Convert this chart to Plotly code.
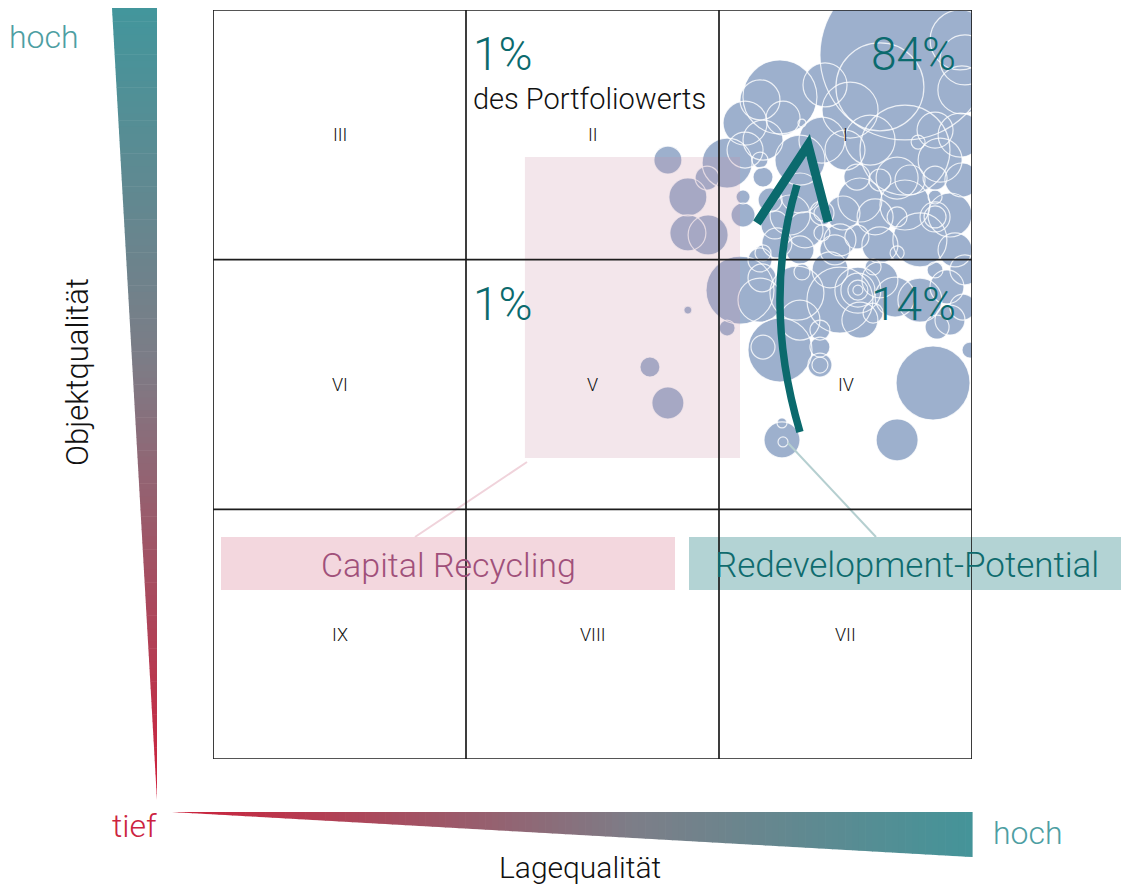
import plotly.graph_objects as go

W, H = 1122, 886

# Portfolio properties: location quality (x), building quality (y), market value (Mio. CHF)
lage = [
    2.735, 2.636, 2.735, 2.241, 2.960, 2.103, 2.174, 2.253, 2.407, 2.854,
    2.787, 2.545, 2.636, 2.704, 2.854, 2.960, 2.854, 2.854, 2.854, 2.704,
    2.617, 2.545, 2.704, 2.794, 2.933, 2.407, 2.407, 2.407, 2.174, 2.320,
    2.095, 2.490, 2.229, 2.498, 2.340, 2.953, 2.419, 2.328, 2.162, 2.032,
    2.095, 2.174, 2.953,
    2.518, 2.320, 2.597, 2.103, 2.281, 2.557, 2.735, 2.913, 2.636, 2.458,
    2.874, 2.320, 2.162, 2.972, 2.221, 2.478, 2.755, 2.202,
    2.549, 2.549, 2.549, 2.549, 2.609, 2.609, 2.696, 2.854, 2.901, 2.862,
    2.964, 2.478, 2.308, 2.328, 2.241, 2.174, 2.399, 2.399, 2.399, 2.399,
    2.083, 2.032, 2.992, 2.846, 2.704, 2.249, 2.249, 2.253, 2.170, 2.972,
    2.162, 2.320, 2.439, 2.636, 2.794, 2.913, 2.557, 2.162,
    1.798, 1.953, 1.877, 1.877, 1.957,
    1.877, 1.727, 1.798,
]
objekt = [
    2.820, 2.692, 2.439, 2.652, 2.680, 2.547, 2.479, 2.567, 2.479, 2.519,
    2.471, 2.331, 2.319, 2.327, 2.327, 2.319, 2.251, 2.171, 2.171, 2.171,
    2.171, 2.091, 2.027, 2.079, 2.039, 2.187, 2.187, 2.107, 2.331, 2.267,
    2.251, 2.187, 2.067, 2.439, 2.119, 2.499, 2.700, 2.547, 2.399, 2.387,
    2.179, 2.027, 2.880,
    2.599, 2.399, 2.479, 2.439, 2.179, 2.239, 2.219, 2.179, 2.059, 2.039,
    2.399, 2.039, 2.640, 2.800, 2.139, 2.079, 2.319, 2.239,
    1.878, 1.878, 1.878, 1.878, 1.971, 1.786, 1.850, 1.959, 1.891, 1.730,
    1.810, 1.838, 1.866, 1.951, 1.638, 1.650, 1.718, 1.650, 1.578, 1.578,
    1.878, 1.726, 1.638, 1.506, 1.278, 1.278, 1.346, 1.270, 1.927, 1.959,
    1.838, 1.758, 1.959, 1.919, 1.838, 1.758, 1.758, 1.999,
    2.399, 2.327, 2.251, 2.107, 2.099,
    1.798, 1.570, 1.426,
]
wert = [
    7225, 1936, 2025, 1369, 576, 484, 400, 289, 529, 324,
    49, 169, 121, 441, 144, 289, 49, 225, 121, 100,
    324, 144, 49, 729, 289, 144, 64, 64, 100, 400,
    49, 289, 225, 400, 324, 484, 484, 16, 64, 625,
    144, 64, 900,
    784, 625, 625, 324, 400, 484, 625, 484, 324, 225,
    484, 196, 400, 625, 196, 256, 225, 144,
    529, 289, 100, 25, 64, 100, 400, 64, 289, 144,
    169, 1089, 729, 64, 1024, 144, 100, 100, 144, 64,
    1156, 64, 64, 1369, 441, 324, 25, 25, 196, 225,
    484, 400, 324, 324, 484, 225, 324, 144,
    196, 144, 361, 324, 400,
    16, 100, 256,
]

# Matrix cells (roman numerals) by row from top
cell_labels = [["III", "II", "I"], ["VI", "V", "IV"], ["IX", "VIII", "VII"]]

# Share of portfolio value per field
share_text = ["1%", "84%", "1%", "14%"]

# Arrow (redevelopment path) in axis units
arrow_shaft = [(2.320, 1.310), (2.168, 1.832), (2.308, 2.299)]
arrow_head = [(2.150, 2.147), (2.352, 2.459), (2.431, 2.151)]

# Highlighted capital-recycling zone in axis units
recycling_zone = (1.233, 1.206, 2.083, 2.411)

BUBBLE = "#9db0cd"
TEAL = "#0b6a6d"
FONT = "Roboto"
SIZEREF = 0.5

x_dom = [213 / W, 972 / W]
y_dom = [1 - 759 / H, 1 - 10 / H]


def px(X):
    return X / W


def py(Y):
    return 1 - Y / H


def lerp(c1, c2, t):
    return tuple(round(a + (b - a) * t) for a, b in zip(c1, c2))


def grad(t, stops):
    for (t0, c0), (t1, c1) in zip(stops, stops[1:]):
        if t <= t1:
            return "rgb(%d,%d,%d)" % lerp(c0, c1, (t - t0) / (t1 - t0))
    return "rgb(%d,%d,%d)" % stops[-1][1]


fig = go.Figure()

# bubble fills, then every outline on top so overlaps stay visible
fig.add_trace(go.Scatter(
    x=lage, y=objekt, mode="markers", hoverinfo="skip",
    marker=dict(size=wert, sizemode="area", sizeref=SIZEREF, color=BUBBLE,
                opacity=1, line=dict(width=0)),
))
fig.add_trace(go.Scatter(
    x=lage, y=objekt, mode="markers", hoverinfo="skip",
    marker=dict(size=wert, sizemode="area", sizeref=SIZEREF,
                color="rgba(0,0,0,0)", opacity=1,
                line=dict(width=1.2, color="rgba(255,255,255,0.8)")),
))

shapes = []

# capital recycling zone (translucent, over the bubbles)
zx0, zy0, zx1, zy1 = recycling_zone
shapes.append(dict(type="rect", xref="x", yref="y", x0=zx0, y0=zy0, x1=zx1, y1=zy1,
                   fillcolor="rgba(200,140,165,0.22)", line=dict(width=0), layer="above"))

# label boxes
shapes.append(dict(type="rect", xref="paper", yref="paper", x0=px(221), x1=px(675),
                   y0=py(590), y1=py(537), fillcolor="#f3d7de", line=dict(width=0), layer="above"))
shapes.append(dict(type="rect", xref="paper", yref="paper", x0=px(689), x1=px(1121),
                   y0=py(590), y1=py(537), fillcolor="#b3d3d4", line=dict(width=0), layer="above"))

# connector lines
shapes.append(dict(type="line", xref="paper", yref="paper", x0=px(527), y0=py(462),
                   x1=px(415), y1=py(537), line=dict(color="#f0d3db", width=2), layer="above"))
shapes.append(dict(type="line", xref="paper", yref="paper", x0=px(788), y0=py(443),
                   x1=px(876), y1=py(537), line=dict(color="#b5cfd0", width=2), layer="above"))

# 3x3 grid
for k in range(4):
    shapes.append(dict(type="line", xref="x", yref="y", x0=k, x1=k, y0=0, y1=3,
                       line=dict(color="#1c1c1c", width=1.7), layer="above"))
    shapes.append(dict(type="line", xref="x", yref="y", x0=0, x1=3, y0=k, y1=k,
                       line=dict(color="#1c1c1c", width=1.7), layer="above"))

# arrow
(sx0, sy0), (scx, scy), (sx1, sy1) = arrow_shaft
shapes.append(dict(type="path", xref="x", yref="y",
                   path=f"M {sx0},{sy0} Q {scx},{scy} {sx1},{sy1}",
                   line=dict(color=TEAL, width=7.5), layer="above"))
(ax0, ay0), (ax1, ay1), (ax2, ay2) = arrow_head
shapes.append(dict(type="path", xref="x", yref="y",
                   path=f"M {ax0},{ay0} L {ax1},{ay1} L {ax2},{ay2}",
                   line=dict(color=TEAL, width=9), layer="above"))

# gradient wedges for the two quality axes
stops_v = [(0.0, (66, 150, 156)), (0.45, (125, 124, 134)), (1.0, (207, 30, 58))]
N = 120
Yt, Yb, XLt, XLb, XR = 8, 800, 112, 157, 157
for i in range(N):
    ya = Yt + (Yb - Yt) * i / N
    yb = Yt + (Yb - Yt) * (i + 1) / N
    xa = XLt + (XLb - XLt) * (ya - Yt) / (Yb - Yt)
    xb = XLt + (XLb - XLt) * (yb - Yt) / (Yb - Yt)
    col = grad((i + 0.5) / N, stops_v)
    shapes.append(dict(type="path", xref="paper", yref="paper",
                       path=f"M {px(xa)},{py(ya)} L {px(XR)},{py(ya)} L {px(XR)},{py(yb + 0.6)} L {px(xb)},{py(yb + 0.6)} Z",
                       fillcolor=col, line=dict(width=0), layer="above"))

stops_h = [(0.0, (205, 32, 58)), (0.58, (124, 126, 136)), (1.0, (68, 148, 153))]
Xl, Xr, Yh, Ybr = 172, 972, 812, 857
for i in range(N):
    xa = Xl + (Xr - Xl) * i / N
    xb = Xl + (Xr - Xl) * (i + 1) / N
    ya = Yh + (Ybr - Yh) * (xa - Xl) / (Xr - Xl)
    yb = Yh + (Ybr - Yh) * (xb - Xl) / (Xr - Xl)
    col = grad((i + 0.5) / N, stops_h)
    shapes.append(dict(type="path", xref="paper", yref="paper",
                       path=f"M {px(xa)},{py(Yh)} L {px(xb + 0.6)},{py(Yh)} L {px(xb + 0.6)},{py(yb)} L {px(xa)},{py(ya)} Z",
                       fillcolor=col, line=dict(width=0), layer="above"))

annotations = []

# roman numerals at cell centres
for r, row in enumerate(cell_labels):
    for c, lab in enumerate(row):
        annotations.append(dict(x=c + 0.5, y=2.5 - r, xref="x", yref="y", text=lab,
                                xanchor="center", yanchor="middle", showarrow=False,
                                font=dict(family=FONT, size=18, color="#111", weight=300)))

# value shares
pct_font = dict(family=FONT, size=46, color=TEAL, weight=300)
annotations += [
    dict(x=1.02, y=2.94, xref="x", yref="y", text=share_text[0], xanchor="left", yanchor="top",
         showarrow=False, font=pct_font),
    dict(x=2.945, y=2.94, xref="x", yref="y", text=share_text[1], xanchor="right", yanchor="top",
         showarrow=False, font=pct_font),
    dict(x=1.02, y=1.94, xref="x", yref="y", text=share_text[2], xanchor="left", yanchor="top",
         showarrow=False, font=pct_font),
    dict(x=2.945, y=1.94, xref="x", yref="y", text=share_text[3], xanchor="right", yanchor="top",
         showarrow=False, font=pct_font),
    dict(x=1.02, y=2.72, xref="x", yref="y", text="des Portfoliowerts", xanchor="left", yanchor="top",
         showarrow=False, font=dict(family=FONT, size=29, color="#111", weight=300)),
]


def label(X, Y, text, size, color, **kw):
    return dict(x=px(X), y=py(Y), xref="paper", yref="paper", text=text,
                xanchor=kw.pop("xanchor", "center"), yanchor=kw.pop("yanchor", "middle"),
                showarrow=False, font=dict(family=FONT, size=size, color=color, weight=300), **kw)


# box labels, axis titles and axis ends
annotations += [
    label(448, 565, "Capital Recycling", 34, "#a0507a"),
    label(907, 565, "Redevelopment-Potential", 35, "#0f6b6e"),
    label(44, 37, "hoch", 32, "#4d9ea2"),
    label(134, 826, "tief", 32, "#cc2340"),
    label(1028, 833, "hoch", 32, "#4d9ea2"),
    label(77, 372, "Objektqualität", 31, "#111", textangle=-90),
    label(580, 867, "Lagequalität", 30, "#111"),
    label(46, 893, "Partner", 17, "#111", xanchor="right"),
]

fig.update_layout(
    width=W, height=H,
    margin=dict(l=0, r=0, t=0, b=0),
    paper_bgcolor="white", plot_bgcolor="white",
    showlegend=False,
    xaxis=dict(domain=x_dom, range=[0, 3], visible=False, fixedrange=True),
    yaxis=dict(domain=y_dom, range=[0, 3], visible=False, fixedrange=True),
    shapes=shapes,
    annotations=annotations,
)

fig.write_html("out.html", config={"displayModeBar": False})
